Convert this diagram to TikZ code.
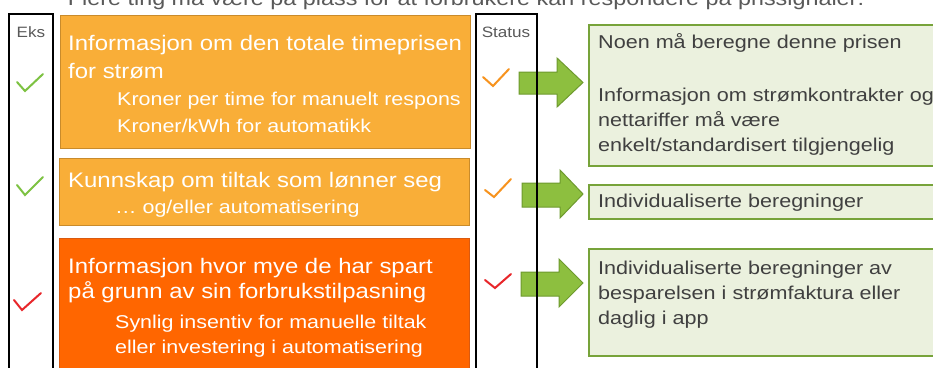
\documentclass[tikz,border=0pt]{standalone}
\usepackage{fontspec}
\setmainfont{Liberation Sans}
\newfontfamily\wideA[FakeStretch=1.14]{Liberation Sans}
\newfontfamily\wideB[FakeStretch=1.16]{Liberation Sans}
\definecolor{orlight}{HTML}{F9AE38}
\definecolor{orlightd}{HTML}{C98B2B}
\definecolor{ordark}{HTML}{FF6600}
\definecolor{ordarkd}{HTML}{D95A10}
\definecolor{grfill}{HTML}{EBF1DE}
\definecolor{grline}{HTML}{77A33A}
\definecolor{arfill}{HTML}{8DBF3F}
\definecolor{arline}{HTML}{6E9A2E}
\definecolor{txgrey}{HTML}{404040}
\definecolor{lbgrey}{HTML}{595959}
\definecolor{ckgreen}{HTML}{7DC242}
\definecolor{ckorange}{HTML}{F7931E}
\definecolor{ckred}{HTML}{E8262A}
\begin{document}
\begin{tikzpicture}[x=1pt,y=-1pt,
  obox/.style={draw=orlightd, fill=orlight, line width=1.2pt, inner sep=0pt, anchor=north west},
  dbox/.style={draw=ordarkd, fill=ordark, line width=1.2pt, inner sep=0pt, anchor=north west},
  gbox/.style={draw=grline, fill=grfill, line width=2.2pt, inner sep=0pt, anchor=north west},
  col/.style={draw=black, line width=1.6pt},
  tmain/.style={anchor=base west, inner sep=0pt, text=white, font=\wideA\fontsize{21}{25}\selectfont},
  tsub/.style={anchor=base west, inner sep=0pt, text=white, font=\wideB\fontsize{18.5}{22}\selectfont},
  tgreen/.style={anchor=base west, inner sep=0pt, text=txgrey, font=\wideB\fontsize{18.6}{22}\selectfont},
  tlabel/.style={anchor=base, inner sep=0pt, text=lbgrey, font=\wideA\fontsize{15}{18}\selectfont},
  ttitle/.style={anchor=base, inner sep=0pt, text=lbgrey, font=\wideA\fontsize{20.5}{24}\selectfont},
  check/.style={line width=2pt, line cap=round, line join=miter},
  blockarrow/.style={fill=arfill, draw=arline, line width=1pt, line join=miter}
]
\useasboundingbox (0,0) rectangle (933,367);
\clip (0,0) rectangle (933,367);
\fill[white] (0,0) rectangle (933,367);

% title (cut off at the top)
\node[ttitle] (title) at (466,5) {Flere ting må være på plass for at forbrukere kan respondere på prissignaler:};

% orange boxes
\node[obox, minimum width=410pt, minimum height=133pt] (b1) at (60,15) {};
\node[obox, minimum width=410pt, minimum height=67pt] (b2) at (59,158) {};
\node[dbox, minimum width=410pt, minimum height=150pt] (b3) at (59,238) {};

\node[tmain] (b1l1) at (68,50) {Informasjon om den totale timeprisen};
\node[tmain] (b1l2) at (68,78) {for strøm};
\node[tsub] (b1l3) at (117,105) {Kroner per time for manuelt respons};
\node[tsub] (b1l4) at (117,132) {Kroner/kWh for automatikk};

\node[tmain] (b2l1) at (68,187) {Kunnskap om tiltak som lønner seg};
\node[tsub] (b2l2) at (115,213) {… og/eller automatisering};

\node[tmain] (b3l1) at (68,273) {Informasjon hvor mye de har spart};
\node[tmain] (b3l2) at (68,298) {på grunn av sin forbrukstilpasning};
\node[tsub] (b3l3) at (115,328) {Synlig insentiv for manuelle tiltak};
\node[tsub] (b3l4) at (115,353) {eller investering i automatisering};

% green boxes
\node[gbox, minimum width=360pt, minimum height=141pt] (g1) at (588,24) {};
\node[gbox, minimum width=360pt, minimum height=34pt] (g2) at (588,184) {};
\node[gbox, minimum width=360pt, minimum height=107pt] (g3) at (588,248) {};

\node[tgreen] (g1l1) at (598,48.5) {Noen må beregne denne prisen};
\node[tgreen] (g1l2) at (598,101.7) {Informasjon om strømkontrakter og};
\node[tgreen] (g1l3) at (598,126.7) {nettariffer må være};
\node[tgreen] (g1l4) at (598,151.7) {enkelt/standardisert tilgjengelig};
\node[tgreen] (g2l1) at (598,207.3) {Individualiserte beregninger};
\node[tgreen] (g3l1) at (598,274) {Individualiserte beregninger av};
\node[tgreen] (g3l2) at (598,299.3) {besparelsen i strømfaktura eller};
\node[tgreen] (g3l3) at (598,324) {daglig i app};

% block arrows
\draw[blockarrow] (519,72) -- (557,72) -- (557,58) -- (583,82.5) -- (557,107) -- (557,94) -- (519,94) -- cycle;
\draw[blockarrow] (522,183) -- (560,183) -- (560,170) -- (583,194) -- (560,218) -- (560,207) -- (522,207) -- cycle;
\draw[blockarrow] (521,272) -- (559,272) -- (559,259) -- (583,283) -- (559,307) -- (559,296) -- (521,296) -- cycle;

% columns
\draw[col] (9,400) -- (9,14) -- (53,14) -- (53,400);
\draw[col] (476,400) -- (476,14) -- (537,14) -- (537,400);
\node[tlabel] (eks) at (31,37) {Eks};
\node[tlabel] (status) at (506,37) {Status};

% checks
\draw[check, ckgreen] (17,82) -- (25,91) -- (43,74);
\draw[check, ckgreen] (17,185) -- (25,195) -- (43,177);
\draw[check, ckred] (14,300) -- (22,310) -- (41,293);
\draw[check, ckorange] (483,77) -- (493,86) -- (509,69);
\draw[check, ckorange] (485,190) -- (494,197) -- (511,179);
\draw[check, ckred] (485,280) -- (495,288) -- (511,274);
\end{tikzpicture}
\end{document}
